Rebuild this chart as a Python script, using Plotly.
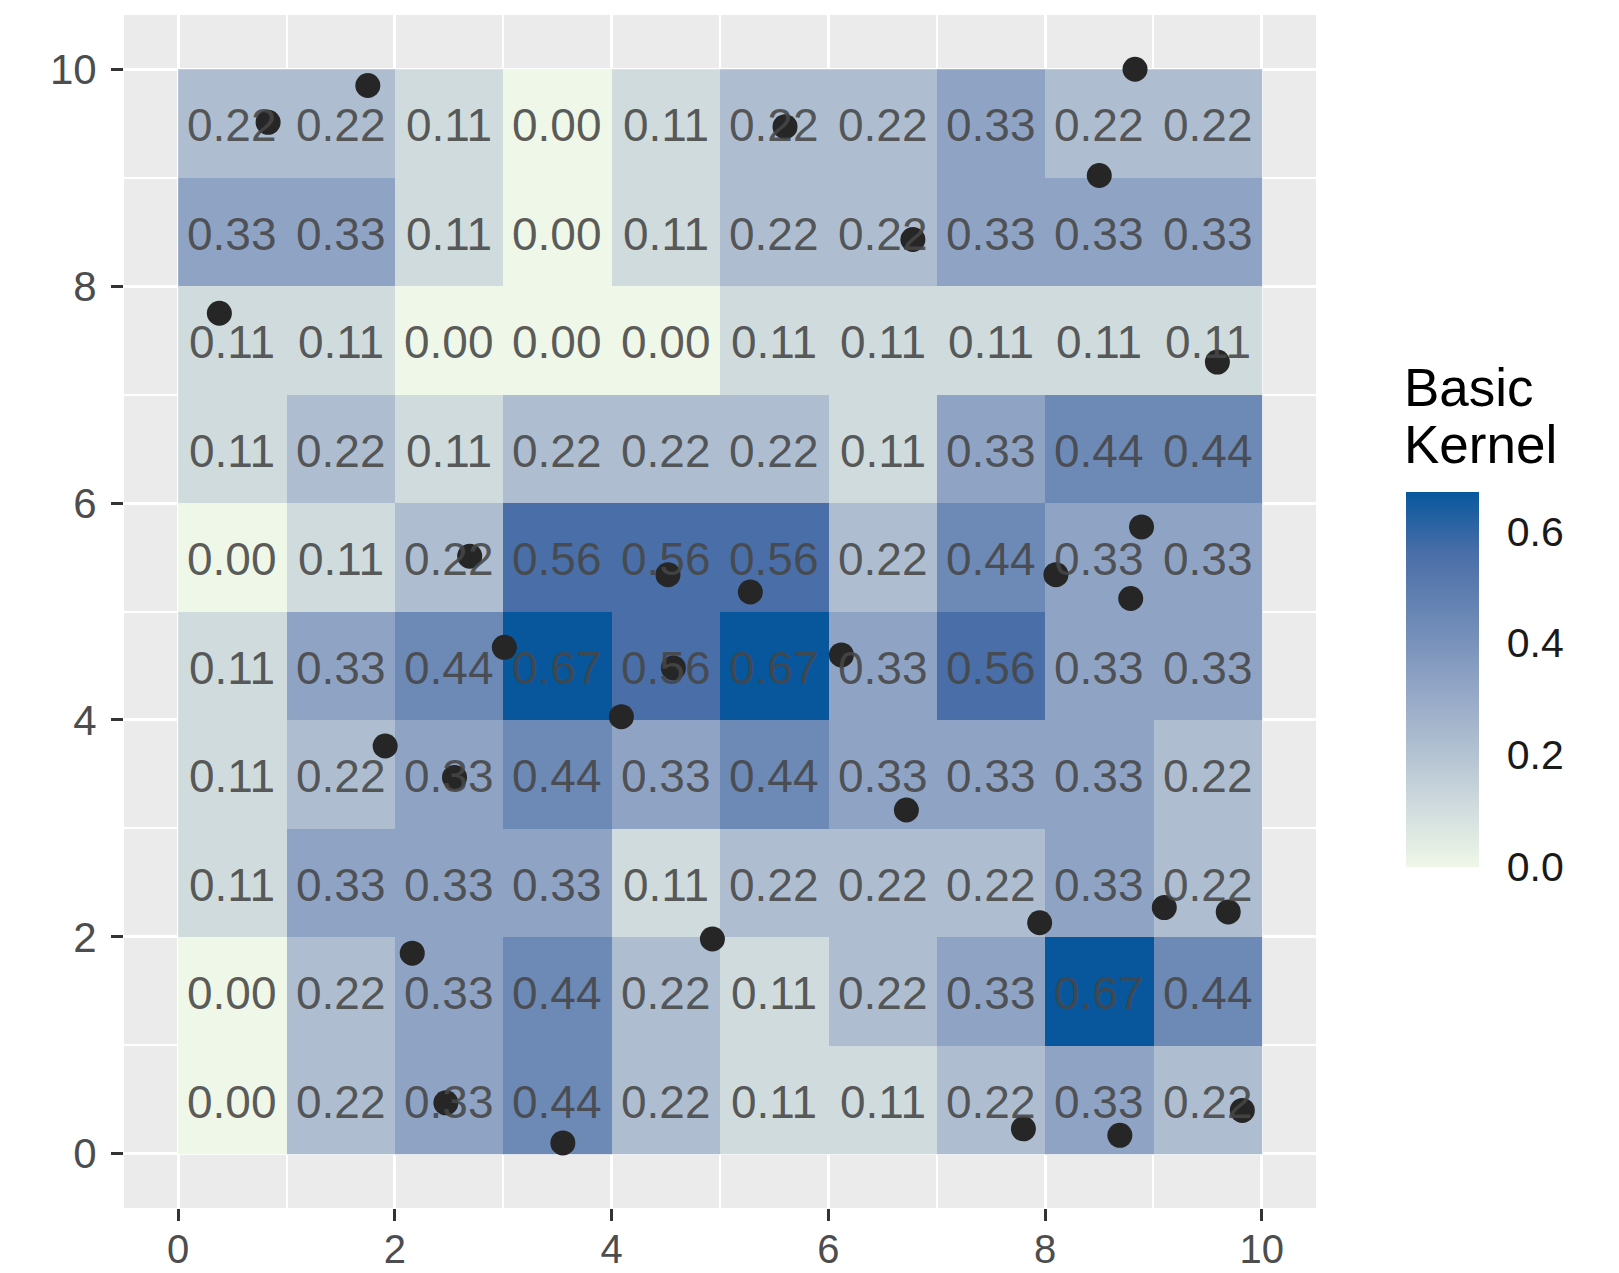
import plotly.graph_objects as go

# Basic kernel values per 1x1 cell, listed from the top row (y 9-10) down to the bottom row (y 0-1)
row_y9 = [0.22, 0.22, 0.11, 0.00, 0.11, 0.22, 0.22, 0.33, 0.22, 0.22]
row_y8 = [0.33, 0.33, 0.11, 0.00, 0.11, 0.22, 0.22, 0.33, 0.33, 0.33]
row_y7 = [0.11, 0.11, 0.00, 0.00, 0.00, 0.11, 0.11, 0.11, 0.11, 0.11]
row_y6 = [0.11, 0.22, 0.11, 0.22, 0.22, 0.22, 0.11, 0.33, 0.44, 0.44]
row_y5 = [0.00, 0.11, 0.22, 0.56, 0.56, 0.56, 0.22, 0.44, 0.33, 0.33]
row_y4 = [0.11, 0.33, 0.44, 0.67, 0.56, 0.67, 0.33, 0.56, 0.33, 0.33]
row_y3 = [0.11, 0.22, 0.33, 0.44, 0.33, 0.44, 0.33, 0.33, 0.33, 0.22]
row_y2 = [0.11, 0.33, 0.33, 0.33, 0.11, 0.22, 0.22, 0.22, 0.33, 0.22]
row_y1 = [0.00, 0.22, 0.33, 0.44, 0.22, 0.11, 0.22, 0.33, 0.67, 0.44]
row_y0 = [0.00, 0.22, 0.33, 0.44, 0.22, 0.11, 0.11, 0.22, 0.33, 0.22]

cell_centers = [0.5, 1.5, 2.5, 3.5, 4.5, 5.5, 6.5, 7.5, 8.5, 9.5]

# Observed event locations
point_x = [0.83, 1.75, 0.38, 2.69, 4.52, 5.28, 3.01, 4.57, 4.09, 1.91, 2.55,
           6.12, 6.72, 2.16, 4.93, 2.47, 3.55, 5.60, 6.78, 8.83, 8.50, 9.59,
           8.89, 8.10, 8.79, 7.95, 9.10, 9.69, 7.80, 8.69, 9.82]
point_y = [9.51, 9.85, 7.75, 5.51, 5.34, 5.18, 4.67, 4.48, 4.03, 3.76, 3.47,
           4.60, 3.17, 1.85, 1.98, 0.47, 0.10, 9.47, 8.43, 10.00, 9.02, 7.30,
           5.78, 5.34, 5.12, 2.13, 2.27, 2.23, 0.23, 0.17, 0.40]

axis_ticks = [0, 2, 4, 6, 8, 10]
legend_ticks = [0.0, 0.2, 0.4, 0.6]
legend_ticktext = ["0.0", "0.2", "0.4", "0.6"]

# Bottom row first so rows line up with increasing y
z = [row_y0, row_y1, row_y2, row_y3, row_y4, row_y5, row_y6, row_y7, row_y8, row_y9]
zmax = max(max(r) for r in z)

colorscale = [
    [0.00, "#EFF7E8"],
    [0.164, "#CFDBDD"],
    [0.328, "#AEBED0"],
    [0.493, "#8FA3C4"],
    [0.657, "#6D89B6"],
    [0.836, "#4A6EA8"],
    [1.00, "#08579D"],
]

FONT = "Liberation Sans, Arial, sans-serif"

# Figure geometry (pixels)
W, H = 1619, 1273
ML, MR, MT, MB = 124, 303, 15, 65
plot_w = W - ML - MR
plot_h = H - MT - MB

bar_left_px = 1406
bar_top_px = 492
bar_len_px = 375
bar_w_px = 73
bar_x = (bar_left_px - ML) / plot_w
bar_y = (H - MB - (bar_top_px + bar_len_px / 2)) / plot_h

fig = go.Figure()

fig.add_trace(go.Heatmap(
    x=cell_centers, y=cell_centers, z=z,
    zmin=0, zmax=zmax,
    colorscale=colorscale,
    xgap=0, ygap=0,
    hoverinfo="skip",
    colorbar=dict(
        thickness=bar_w_px, thicknessmode="pixels",
        len=bar_len_px, lenmode="pixels",
        x=bar_x, xanchor="left", y=bar_y, yanchor="middle",
        xpad=0, ypad=0, outlinewidth=0,
        tickmode="array", tickvals=legend_ticks, ticktext=legend_ticktext,
        # outside ticks in the paper colour only set the label gap
        ticks="outside", ticklen=20, tickwidth=1, tickcolor="white",
        tickfont=dict(family=FONT, size=41, color="#1A1A1A"),
    ),
))

fig.add_trace(go.Scatter(
    x=point_x, y=point_y, mode="markers",
    marker=dict(size=25, color="#262626", line=dict(width=0)),
    hoverinfo="skip", showlegend=False,
))

# Cell value labels, drawn above the points
annotations = []
for j, row in enumerate(z):
    for i, v in enumerate(row):
        annotations.append(dict(
            x=cell_centers[i], y=cell_centers[j], xref="x", yref="y",
            text=f"{v:.2f}", showarrow=False,
            xanchor="center", yanchor="middle", yshift=-2,
            font=dict(family=FONT, size=46, color="rgba(70,70,70,0.88)"),
        ))

# White tick marks on both inner edges of the colour bar
shapes = []
tick_w = 14 / plot_w
bar_right = bar_x + bar_w_px / plot_w
for v in legend_ticks:
    py = bar_top_px + bar_len_px - v / zmax * bar_len_px
    yp = (H - MB - py) / plot_h
    for x0, x1 in ((bar_x, bar_x + tick_w), (bar_right - tick_w, bar_right)):
        shapes.append(dict(
            type="line", xref="paper", yref="paper",
            x0=x0, x1=x1, y0=yp, y1=yp,
            line=dict(color="white", width=2),
        ))

annotations += [
    dict(text="Basic", xref="paper", yref="paper",
         x=(bar_left_px - 4 - ML) / plot_w, y=(H - MB - 388) / plot_h,
         xanchor="left", yanchor="middle", showarrow=False,
         font=dict(family=FONT, size=53, color="black")),
    dict(text="Kernel", xref="paper", yref="paper",
         x=(bar_left_px - 4 - ML) / plot_w, y=(H - MB - 444) / plot_h,
         xanchor="left", yanchor="middle", showarrow=False,
         font=dict(family=FONT, size=53, color="black")),
]

axis_common = dict(
    range=[-0.5, 10.5],
    tickmode="array", tickvals=axis_ticks,
    showgrid=True, gridcolor="white", gridwidth=3,
    minor=dict(tickmode="array", tickvals=[1, 3, 5, 7, 9],
               showgrid=True, gridcolor="white", gridwidth=1.5),
    zeroline=False, showline=False, automargin=False,
    ticks="outside", ticklen=12, tickwidth=3, tickcolor="#333333",
    fixedrange=True,
)

fig.update_layout(
    width=W, height=H,
    margin=dict(l=ML, r=MR, t=MT, b=MB, pad=0, autoexpand=False),
    paper_bgcolor="white", plot_bgcolor="#EBEBEB",
    xaxis=dict(**axis_common, ticklabelstandoff=-6,
               tickfont=dict(family=FONT, size=40, color="#4D4D4D")),
    yaxis=dict(**axis_common, ticklabelstandoff=6,
               tickfont=dict(family=FONT, size=42, color="#4D4D4D")),
    shapes=shapes, annotations=annotations,
    showlegend=False,
)

fig.write_html("out.html")
